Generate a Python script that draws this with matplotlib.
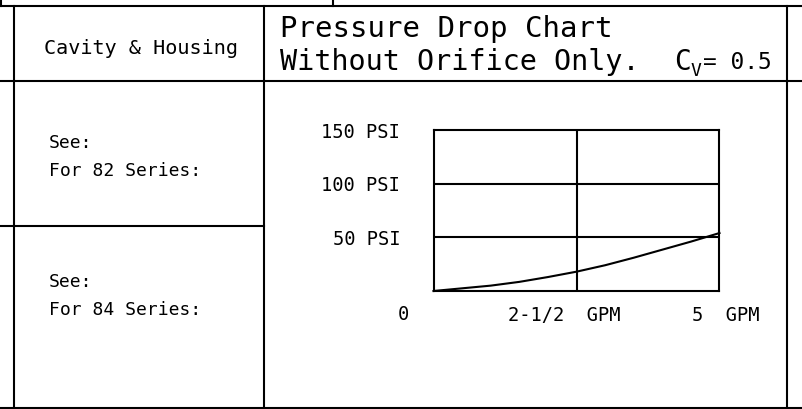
#!/usr/bin/env python3
# -*- coding: utf-8 -*-
"""
Pressure drop chart sheet (Cv = 0.5)
"""

import matplotlib
matplotlib.use("Agg")
import matplotlib.pyplot as plt
from matplotlib.transforms import ScaledTranslation

# Dados da curva
gpm = [0, 0.5, 1.0, 1.5, 2.0, 2.5, 3.0, 3.5, 4.0, 4.5, 5.0]
psi = [0, 2.5, 5.0, 8.5, 13.0, 18.0, 24.0, 31.0, 38.5, 46.0, 54.0]

y_ticks = [50, 100, 150]
y_labels = ["50 PSI", "100 PSI", "150 PSI"]
x_ticks = [2.5, 5]
x_labels = ["2-1/2  GPM", "5  GPM"]

W, H = 803, 409
LW = 1.5
FONT = "DejaVu Sans Mono"


def main():
    fig = plt.figure(figsize=(W / 100, H / 100), dpi=100)
    fig.patch.set_facecolor("white")
    plt.rcParams["font.family"] = FONT

    # Eixo de fundo em pixels para a tabela
    bg = fig.add_axes([0, 0, 1, 1])
    bg.set_xlim(0, W)
    bg.set_ylim(H, 0)
    bg.axis("off")

    def line(x0, y0, x1, y1):
        bg.plot([x0, x1], [y0, y1], color="black", lw=LW, solid_capstyle="projecting")

    # Linhas da tabela
    line(0, 6, W, 6)
    line(1, 0, 1, 6)
    line(333, 0, 333, 6)
    line(0, 81, W, 81)
    line(0, 226, 264, 226)
    line(0, 407.5, W, 407.5)
    for x in (14, 264, 787):
        line(x, 6, x, 407.5)

    # Textos da tabela
    bg.text(141, 49, "Cavity & Housing", fontsize=14.5, ha="center", va="center")
    bg.text(280, 37, "Pressure Drop Chart", fontsize=21, ha="left", va="baseline")
    bg.text(280, 70, "Without Orifice Only.", fontsize=20.5, ha="left", va="baseline")
    bg.text(674, 70, "C", fontsize=20, ha="left", va="baseline")
    bg.text(691, 76, "V", fontsize=13, ha="left", va="baseline")
    bg.text(703, 69, "= 0.5", fontsize=16.5, ha="left", va="baseline")

    bg.text(49, 148, "See:", fontsize=13, ha="left", va="baseline")
    bg.text(49, 176, "For 82 Series:", fontsize=13, ha="left", va="baseline")
    bg.text(49, 287, "See:", fontsize=13, ha="left", va="baseline")
    bg.text(49, 315, "For 84 Series:", fontsize=13, ha="left", va="baseline")

    # Grafico
    left, right, top, bottom = 433.5, 719.5, 130, 291
    ax = fig.add_axes([left / W, (H - bottom) / H, (right - left) / W, (bottom - top) / H])
    ax.set_facecolor("none")
    ax.plot(gpm, psi, color="black", lw=LW, clip_on=False)
    ax.set_xlim(0, 5)
    ax.set_ylim(0, 150)
    for s in ax.spines.values():
        s.set_linewidth(LW)
    ax.axvline(2.5, color="black", lw=LW)
    for y in (50, 100):
        ax.axhline(y, color="black", lw=LW)

    ax.set_yticks(y_ticks)
    ax.set_yticklabels(y_labels, fontsize=13.5)
    ax.set_xticks(x_ticks)
    ax.set_xticklabels(x_labels, fontsize=13.5)
    ax.tick_params(axis="y", length=0, pad=24)
    ax.tick_params(axis="x", length=0, pad=11)

    # Ajuste fino das posicoes dos rotulos do eixo x
    for lbl, dx in zip(ax.get_xticklabels(), (-12, 6)):
        lbl.set_transform(lbl.get_transform() + ScaledTranslation(dx / 100, 0, fig.dpi_scale_trans))

    bg.text(403, 314, "0", fontsize=13.5, ha="center", va="center")

    plt.savefig("out.png", dpi=100)
    plt.close()


if __name__ == "__main__":
    main()
